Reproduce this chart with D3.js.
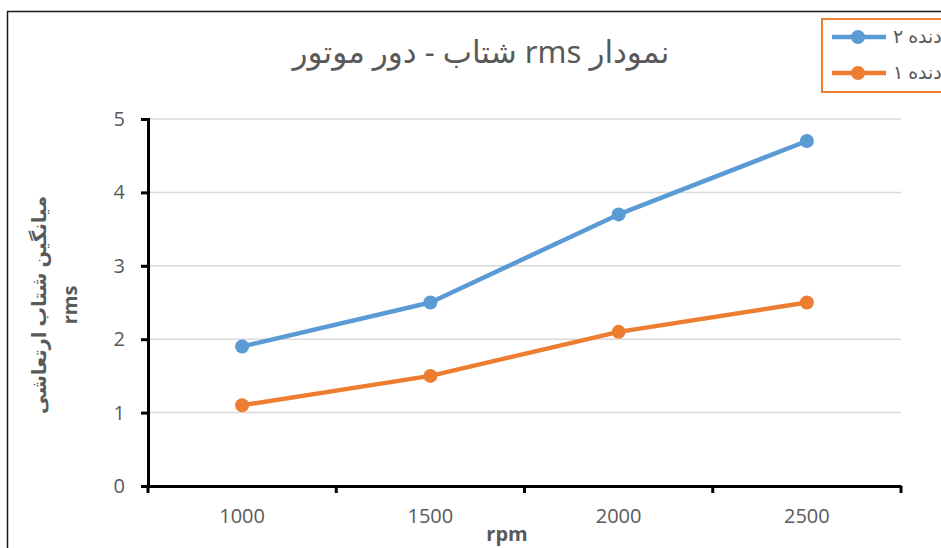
<!DOCTYPE html>
<html><head><meta charset="utf-8">
<script src="https://cdn.jsdelivr.net/npm/d3@7"></script>
<style>body{margin:0;background:#fff;}svg{display:block;font-family:"Open Sans","Noto Sans",sans-serif;}</style>
</head><body>
<svg id="c" width="941" height="548"></svg>
<script>
const categories = ["1000","1500","2000","2500"];
const gear2 = [1.9, 2.5, 3.7, 4.7];
const gear1 = [1.1, 1.5, 2.1, 2.5];
const yTicks = [0,1,2,3,4,5];
const seriesNames = ["دنده ۲","دنده ۱"];
const colors = ["#5b9bd5","#ed7d31"];

const svg = d3.select("#c");
// outer frame
svg.append("path").attr("d","M7.5,548 V11.5 H941").attr("fill","none").attr("stroke","#1a1a1a").attr("stroke-width",1.5);

const L=148,R=901,T=119,B=486;
const x = d3.scaleBand().domain(categories).range([L,R]);
const y = d3.scaleLinear().domain([0,5]).range([B,T]);

// gridlines
svg.append("g").selectAll("line").data(yTicks.filter(d=>d>0)).join("line")
 .attr("x1",L).attr("x2",R).attr("y1",d=>y(d)).attr("y2",d=>y(d))
 .attr("stroke","#d9d9d9").attr("stroke-width",1.5);

// y axis
const ya = svg.append("g").attr("transform",`translate(${L},0)`)
 .call(d3.axisLeft(y).tickValues(yTicks).tickFormat(d3.format("d")).tickSize(7).tickPadding(16));
ya.attr("font-size",null);
ya.select(".domain").attr("stroke","#000").attr("stroke-width",3);
ya.selectAll(".tick line").attr("stroke","#000").attr("stroke-width",3);
ya.selectAll("text").attr("fill","#595959").style("font-size","20px").attr("font-family","'Open Sans',sans-serif");

// x axis
const xa = svg.append("g").attr("transform",`translate(0,${B})`)
 .call(d3.axisBottom(x).tickSize(0).tickPadding(23));
xa.attr("font-size",null);
xa.select(".domain").attr("stroke","#000").attr("stroke-width",3);
xa.selectAll("text").attr("fill","#595959").style("font-size","20px").attr("font-family","'Open Sans',sans-serif");
const bounds = categories.map(c=>x(c)).concat([R]);
svg.append("g").selectAll("line").data(bounds).join("line")
 .attr("x1",d=>d).attr("x2",d=>d).attr("y1",B).attr("y2",B+7)
 .attr("stroke","#000").attr("stroke-width",3);

// lines
const series=[gear2,gear1];
const line = d3.line().x((d,i)=>x(categories[i])+x.bandwidth()/2).y(d=>y(d));
series.forEach((s,k)=>{
  svg.append("path").datum(s).attr("d",line).attr("fill","none")
   .attr("stroke",colors[k]).attr("stroke-width",4.5).attr("stroke-linejoin","round");
  svg.append("g").selectAll("circle").data(s).join("circle")
   .attr("cx",(d,i)=>x(categories[i])+x.bandwidth()/2).attr("cy",d=>y(d))
   .attr("r",7).attr("fill",colors[k]);
});

// title
svg.append("text").attr("x",481).attr("y",63).attr("text-anchor","middle")
 .attr("direction","rtl").attr("font-size",31).attr("fill","#595959")
 .attr("font-family","'Noto Sans','DejaVu Sans',sans-serif")
 .text("نمودار rms شتاب - دور موتور");

// axis titles
svg.append("text").attr("x",507).attr("y",541).attr("text-anchor","middle")
 .attr("font-size",20).attr("font-weight","bold").attr("fill","#595959").text("rpm");
const yt = svg.append("g").attr("transform","translate(0,305) rotate(-90)");
yt.append("text").attr("x",0).attr("y",46).attr("text-anchor","middle").attr("direction","rtl")
 .attr("font-size",19.5).attr("font-weight","bold").attr("fill","#595959")
 .attr("font-family","'Noto Sans','DejaVu Sans',sans-serif")
 .text("میانگین شتاب ارتعاشی");
yt.append("text").attr("x",0).attr("y",77).attr("text-anchor","middle")
 .attr("font-size",20).attr("font-weight","bold").attr("fill","#595959").text("rms");

// legend
svg.append("rect").attr("x",822).attr("y",19).attr("width",130).attr("height",73)
 .attr("fill","#fff").attr("stroke","#ed7d31").attr("stroke-width",2);
seriesNames.forEach((n,k)=>{
  const ly = k===0?37:73;
  svg.append("line").attr("x1",832).attr("x2",886).attr("y1",ly).attr("y2",ly)
   .attr("stroke",colors[k]).attr("stroke-width",4.5);
  svg.append("circle").attr("cx",858).attr("cy",ly).attr("r",7).attr("fill",colors[k]);
  svg.append("text").attr("x",893).attr("y",ly+6).attr("text-anchor","start")
   .attr("font-size",19).attr("fill","#595959")
   .attr("font-family","'Noto Sans','DejaVu Sans',sans-serif")
   .text(n);
});
</script>
</body></html>
